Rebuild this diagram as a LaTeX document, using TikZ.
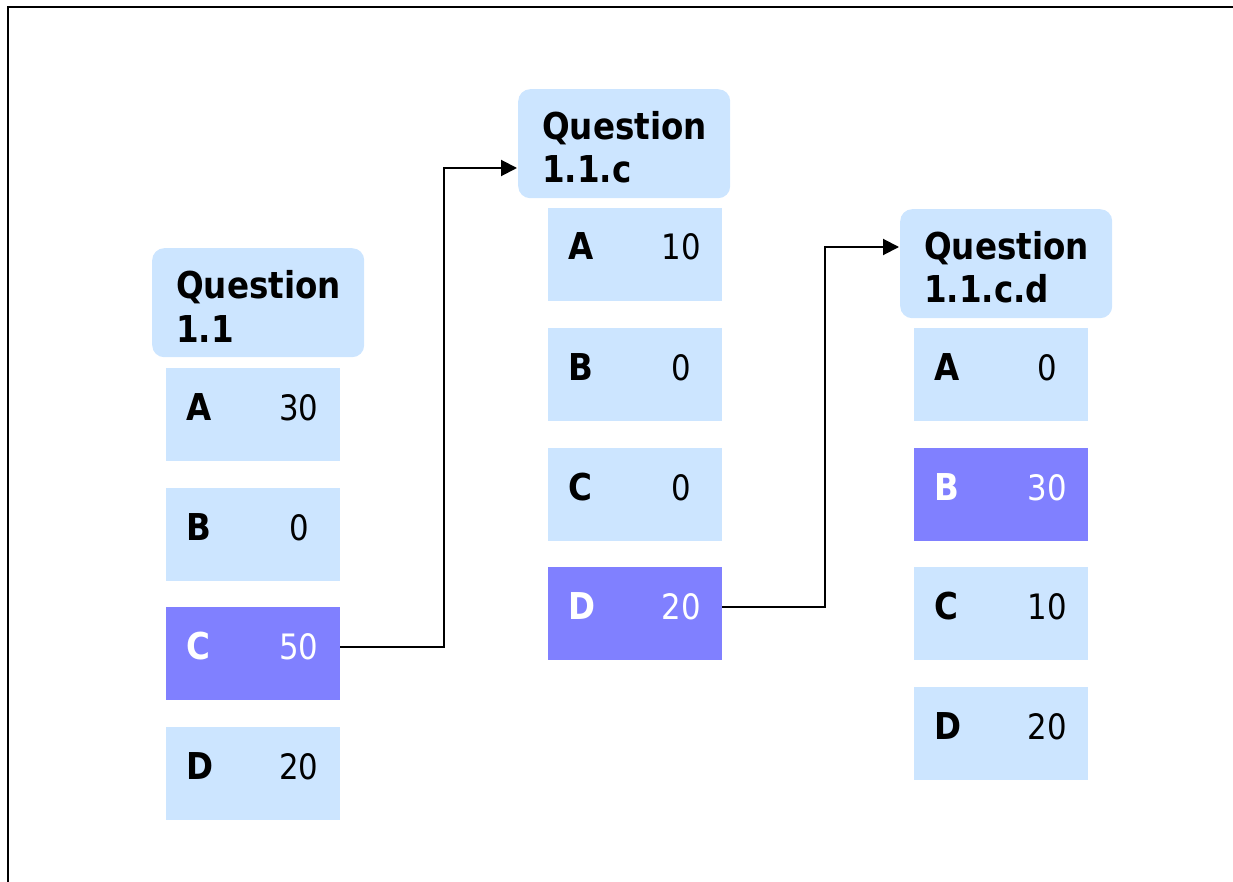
\documentclass[tikz,border=0pt]{standalone}
\usepackage{fontspec}
\setmainfont{DejaVu Sans}[FakeStretch=0.88]
\usetikzlibrary{arrows.meta,calc}
\definecolor{lightq}{RGB}{204,229,255}
\definecolor{hilite}{RGB}{128,128,255}
\tikzset{
 qheadbox/.style={fill=lightq, rounded corners=12pt, anchor=north west, minimum width=212pt, minimum height=109pt, inner sep=0pt, draw=none},
 optbox/.style={fill=lightq, anchor=north west, minimum width=174pt, minimum height=93pt, inner sep=0pt, draw=none},
 hibox/.style={optbox, fill=hilite},
 headtxt/.style={anchor=base west, inner sep=0pt, font=\fontsize{37}{42}\selectfont\bfseries},
 lettr/.style={anchor=base west, inner sep=0pt, font=\fontsize{37}{42}\selectfont\bfseries},
 numtxt/.style={anchor=base, inner sep=0pt, font=\fontsize{35}{42}\selectfont},
 conn/.style={line width=2pt, shorten >=1pt, -{Triangle[length=16pt,width=16pt]}},
 framestyle/.style={line width=2.5pt}
}
\newcommand{\qopt}[7]{%
 \node[#4] (#1) at (#2,#3) {};
 \node[lettr,text=#7] (#1-l) at ($(#1.north west)+(20,52)$) {#5};
 \node[numtxt,text=#7] (#1-n) at ($(#1.north west)+(133,52)$) {#6};
}
\newcommand{\qhd}[5]{%
 \node[qheadbox] (#1) at (#2,#3) {};
 \node[headtxt] (#1-a) at ($(#1.north west)+(24,51)$) {#4};
 \node[headtxt] (#1-b) at ($(#1.north west)+(24,94)$) {#5};
}
\begin{document}
\begin{tikzpicture}[x=1pt,y=-1pt]
\useasboundingbox (0,0) rectangle (1233,882);
\draw[framestyle] (8,882) -- (8,7) -- (1233,7);
% column 1
\qhd{h1}{152}{248}{Question}{1.1}
\qopt{c1a}{166}{368}{optbox}{A}{30}{black}
\qopt{c1b}{166}{488}{optbox}{B}{0}{black}
\qopt{c1c}{166}{607}{hibox}{C}{50}{white}
\qopt{c1d}{166}{727}{optbox}{D}{20}{black}
% column 2
\qhd{h2}{518}{89}{Question}{1.1.c}
\qopt{c2a}{548}{208}{optbox}{A}{10}{black}
\qopt{c2b}{548}{328}{optbox}{B}{0}{black}
\qopt{c2c}{548}{448}{optbox}{C}{0}{black}
\qopt{c2d}{548}{567}{hibox}{D}{20}{white}
% column 3
\qhd{h3}{900}{209}{Question}{1.1.c.d}
\qopt{c3a}{914}{328}{optbox}{A}{0}{black}
\qopt{c3b}{914}{448}{hibox}{B}{30}{white}
\qopt{c3c}{914}{567}{optbox}{C}{10}{black}
\qopt{c3d}{914}{687}{optbox}{D}{20}{black}
% connectors
\coordinate (k1) at (444,168);
\draw[conn] ($(c1c.east)+(0,-7)$) -| (k1) -- (k1 -| h2.west);
\coordinate (k2) at (825,247);
\draw[conn] ($(c2d.east)+(0,-7)$) -| (k2) -- (k2 -| h3.west);
\end{tikzpicture}
\end{document}
